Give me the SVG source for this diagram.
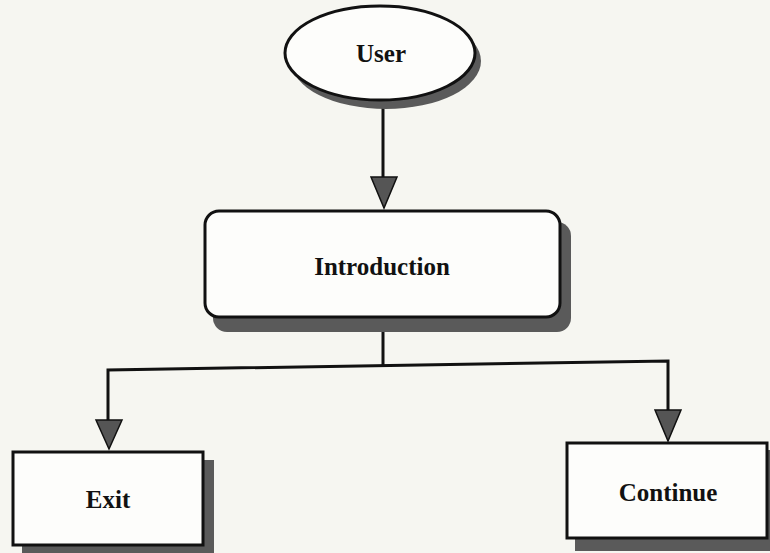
<svg xmlns="http://www.w3.org/2000/svg" width="770" height="553" viewBox="0 0 770 553">
  <defs>
    <style>
      .bg { fill: #f6f6f1; }
      .shadow { fill: #5a5a5a; }
      .shape { fill: #fdfdfb; stroke: #111; stroke-width: 3; }
      .label { font-family: "Liberation Serif", "Times New Roman", serif; font-weight: bold; font-size: 25px; fill: #111; text-anchor: middle; }
      .wire { fill: none; stroke: #111; stroke-width: 3; }
      .head { fill: #555; stroke: #111; stroke-width: 1.5; stroke-linejoin: miter; }
    </style>
  </defs>

  <rect class="bg" x="0" y="0" width="770" height="553"/>

  <!-- connectors -->
  <g id="connectors">
    <line class="wire" x1="383" y1="100" x2="383" y2="180"/>
    <polygon class="head" points="371,177 397,177 384,208"/>

    <polyline class="wire" points="383,330 383,366"/>
    <polyline class="wire" points="108,424 108,370 668,361 668,414"/>
    <polygon class="head" points="96,420 122,420 109,449"/>
    <polygon class="head" points="655,410 681,410 668,441"/>
  </g>

  <!-- User -->
  <g id="user">
    <ellipse class="shadow" cx="386" cy="61" rx="95" ry="48"/>
    <ellipse class="shape" cx="380" cy="53" rx="95" ry="47"/>
    <text class="label" x="381" y="62">User</text>
  </g>

  <!-- Introduction -->
  <g id="introduction">
    <rect class="shadow" x="213" y="222" width="358" height="110" rx="14"/>
    <rect class="shape" x="205" y="211" width="355" height="106" rx="14"/>
    <text class="label" x="382" y="275">Introduction</text>
  </g>

  <!-- Exit -->
  <g id="exit">
    <rect class="shadow" x="22" y="460" width="192" height="100"/>
    <rect class="shape" x="13" y="452" width="190" height="93"/>
    <text class="label" x="108" y="508">Exit</text>
  </g>

  <!-- Continue -->
  <g id="continue">
    <rect class="shadow" x="575" y="450" width="200" height="101"/>
    <rect class="shape" x="567" y="443" width="200" height="95"/>
    <text class="label" x="668" y="501">Continue</text>
  </g>
</svg>
